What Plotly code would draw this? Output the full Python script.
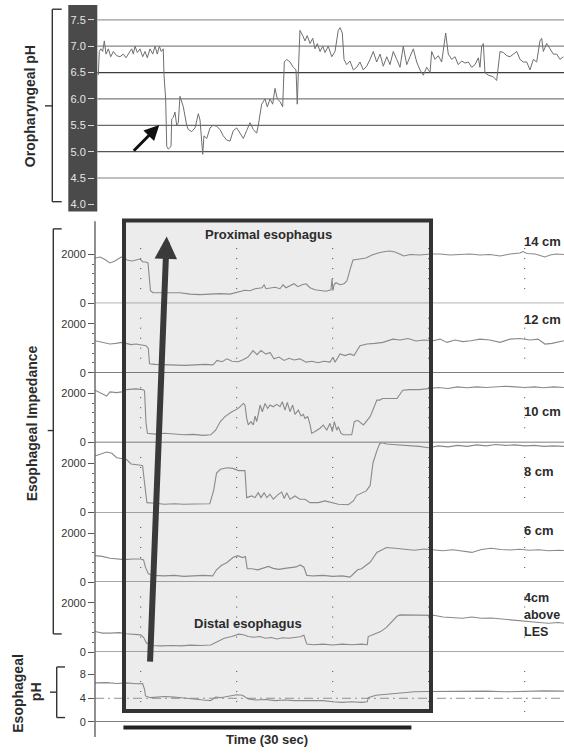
import plotly.graph_objects as go

W, H = 564, 755

# ---------------- data (time in seconds) ----------------
oro_ph = [(5.58,6.45),(5.69,6.9),(5.86,6.95),(6.04,6.9),(6.21,7.1),(6.39,6.85),(6.63,6.95),(6.88,6.8),(7.15,6.9),(7.50,6.82),
          (7.84,6.8),(8.19,6.85),(8.47,6.78),(8.71,6.85),(9.06,6.95),(9.23,6.85),(9.41,7.0),(9.65,6.88),(9.93,6.95),(10.21,6.8),
          (10.45,6.9),(10.69,6.78),(10.97,6.95),(11.25,6.85),(11.49,7.0),(11.73,6.85),(11.94,7.0),(12.15,6.9),(12.35,6.95),(12.43,6.45),
          (12.60,6.0),(12.71,5.1),(12.88,5.05),(13.16,5.1),(13.23,5.62),(13.40,5.65),(13.57,5.75),(13.75,5.5),(13.92,5.55),(14.09,6.05),
          (14.27,5.95),(14.44,5.85),(14.79,5.5),(14.96,5.42),(15.31,5.38),(15.66,5.45),(16.00,5.72),(16.18,5.6),(16.35,5.2),(16.46,4.95),
          (16.59,5.3),(16.88,5.25),(17.22,5.45),(17.56,5.5),(17.92,5.48),(18.26,5.42),(18.60,5.3),(18.96,5.22),(19.30,5.2),(19.65,5.4),
          (20.00,5.45),(20.34,5.35),(20.69,5.25),(21.04,5.4),(21.39,5.55),(21.73,5.42),(22.08,5.35),(22.25,5.5),(22.60,5.9),(22.95,6.0),
          (23.19,5.85),(23.47,6.0),(23.75,5.9),(23.99,6.2),(24.23,6.0),(24.51,5.95),(24.79,5.85),(24.96,6.7),(25.21,6.75),(25.55,6.7),
          (25.90,6.6),(26.18,6.55),(26.31,5.9),(26.42,6.5),(26.59,7.3),(26.88,7.2),(27.11,7.1),(27.35,7.2),(27.64,7.05),(27.92,7.15),
          (28.16,6.95),(28.40,7.05),(28.68,6.9),(28.96,7.0),(29.20,6.88),(29.54,7.0),(29.90,6.8),(30.24,6.9),(30.58,7.3),(30.76,7.35),
          (31.00,7.25),(31.18,6.75),(31.46,6.65),(31.80,6.72),(32.15,6.55),(32.50,6.6),(32.84,6.7),(33.19,6.55),(33.54,6.62),(33.89,6.75),
          (34.23,6.9),(34.58,6.7),(34.93,6.85),(35.27,6.62),(35.63,6.8),(35.97,6.65),(36.31,6.9),(36.67,6.75),(37.01,6.6),(37.35,7.0),
          (37.71,6.65),(38.05,6.8),(38.40,6.95),(38.75,6.7),(39.09,6.55),(39.44,6.45),(39.79,6.6),(40.14,6.5),(40.31,6.9),(40.66,6.75),
          (41.00,6.82),(41.35,6.7),(41.77,7.25),(42.04,6.85),(42.40,6.75),(42.74,6.8),(43.08,6.65),(43.44,6.72),(43.78,6.68),(44.13,6.7),
          (44.48,6.6),(44.82,6.65),(45.17,6.78),(45.34,6.6),(45.52,7.0),(45.69,7.05),(45.86,6.5),(46.21,6.45),(46.73,6.42),(47.08,6.35),
          (47.43,6.9),(47.77,6.88),(48.13,6.82),(48.47,6.8),(48.81,6.85),(49.17,6.9),(49.51,6.75),(49.85,6.7),(50.21,6.7),(50.55,6.55),
          (50.90,6.75),(51.25,6.7),(51.59,7.1),(51.77,7.15),(51.94,6.9),(52.29,7.05),(52.64,6.95),(52.98,6.85),(53.33,6.85),(53.67,6.75),
          (54.02,6.8)]

imp_14cm = [(5.24,1846),(5.76,1887),(6.18,1806),(6.80,1644),(7.32,1725),(7.95,1887),(8.26,1866),(8.57,1765),(9.09,1725),(9.61,1765),
            (9.92,1806),(10.24,1685),(10.55,1685),(10.76,1644),(10.92,1038),(11.02,513),(11.28,432),(12.01,432),(13.05,412),(14.09,432),
            (15.14,372),(16.18,351),(17.22,372),(18.26,392),(19.30,372),(19.93,432),(20.34,473),(20.86,533),(21.39,513),(21.91,594),
            (22.64,634),(22.85,755),(23.05,594),(23.47,634),(23.99,654),(24.51,594),(24.82,755),(25.13,634),(25.55,715),(25.97,796),
            (26.38,675),(26.80,755),(27.22,796),(27.64,634),(28.16,553),(28.68,513),(29.30,493),(29.82,553),(29.93,998),(30.03,513),
            (30.14,755),(30.34,836),(30.76,755),(31.18,796),(31.49,917),(31.80,1361),(32.11,1765),(32.84,1806),(33.47,1846),(34.09,1967),
            (34.72,2048),(35.45,2109),(35.97,2129),(36.49,2089),(37.01,2008),(37.43,1927),(38.05,1988),(39.09,1967),(40.14,2008),(41.18,2008),
            (42.22,1967),(43.26,1988),(44.30,2008),(45.34,1967),(46.38,1988),(47.43,1927),(48.47,2008),(49.51,2048),(49.82,2109),(50.24,2028),
            (51.07,2008),(52.11,1887),(52.64,1967),(53.26,2008),(54.09,1988)]

imp_12cm = [(5.24,1309),(5.76,1270),(6.28,1240),(6.80,1172),(7.41,1200),(8.02,1240),(8.47,1200),(8.99,1150),(9.51,1172),(10.03,1130),
            (10.55,1107),(10.79,1000),(10.92,364),(11.49,339),(12.53,320),(13.57,299),(14.61,299),(15.65,320),(16.70,339),(17.53,320),
            (17.95,501),(18.47,450),(18.99,566),(19.51,470),(20.14,450),(20.66,530),(21.18,640),(21.70,905),(22.11,740),(22.53,905),
            (23.05,760),(23.47,830),(23.89,566),(24.41,640),(24.93,500),(25.45,590),(25.97,520),(26.59,566),(27.22,432),(27.84,470),
            (28.47,410),(29.09,470),(29.72,432),(30.03,634),(30.24,430),(30.76,768),(31.28,700),(31.80,768),(32.22,700),(32.84,1107),
            (33.57,1172),(34.41,1200),(35.24,1240),(36.26,1374),(37.01,1340),(37.84,1400),(38.68,1300),(39.51,1340),(40.45,1309),(41.18,1374),
            (41.91,1240),(42.74,1340),(43.57,1270),(44.40,1309),(45.34,1374),(46.38,1340),(47.43,1240),(48.47,1374),(49.51,1400),(50.55,1340),
            (51.38,1374),(52.11,1172),(52.84,1200),(54.09,1309)]

imp_10cm = [(5.24,2129),(6.0,1990),(6.45,1887),(6.8,2060),(7.5,2030),(8.02,2060),(8.5,2153),(9.5,2180),(10.2,2153),(10.4,2100),
            (10.55,800),(10.7,376),(11.5,340),(12.5,376),(13.5,340),(14.5,311),(15.5,330),(16.5,290),(17.3,311),(17.8,500),
            (18.3,850),(18.78,1050),(19.5,1250),(20.17,1386),(20.69,1588),(20.86,1520),(21.04,982),(21.21,715),(21.49,848),(21.73,715),
            (21.91,1078),(22.08,848),(22.25,1145),(22.43,1523),(22.67,1252),(22.95,1588),(23.23,1386),(23.47,1523),(23.81,1454),(24.17,1550),
            (24.51,1454),(24.75,1656),(25.03,1320),(25.27,1630),(25.55,1252),(25.83,1523),(26.07,1145),(26.42,1320),(26.70,1078),(26.94,1145),
            (27.11,982),(27.40,1050),(27.64,727),(27.81,376),(28.16,444),(28.68,578),(29.02,710),(29.38,500),(29.72,780),(29.96,444),
            (30.17,848),(30.42,500),(30.58,640),(30.86,376),(31.10,311),(31.98,311),(32.25,848),(32.6,900),(33.2,715),(33.9,1050),
            (34.6,1725),(34.9,1725),(35.2,1790),(36.0,1800),(36.7,1790),(37.3,2129),(38.0,2153),(39.0,2150),(40.0,2180),(41.0,2240),
            (42.0,2200),(43.0,2262),(44.0,2230),(45.0,2262),(46.0,2240),(47.0,2262),(48.0,2290),(49.0,2262),(50.0,2240),(51.0,2262),
            (52.0,2230),(53.0,2262),(54.09,2240)]

imp_8cm = [(5.24,2291),(6.45,2452),(7.0,2400),(7.5,2222),(8.5,2157),(9.0,1967),(10.0,1920),(10.2,1900),(10.4,1200),(10.65,404),
           (11.5,380),(12.5,339),(13.5,360),(14.5,339),(15.5,350),(16.5,339),(17.2,360),(17.6,900),(17.9,1600),(18.3,1753),
           (19.0,1818),(19.6,1790),(20.2,1700),(20.86,1700),(21.04,606),(21.56,675),(21.91,606),(22.25,808),(22.53,606),(22.87,808),
           (23.13,606),(23.47,740),(23.81,540),(24.33,740),(24.69,835),(24.96,570),(25.21,808),(25.55,540),(26.07,675),(26.59,540),
           (27.11,540),(27.64,404),(28.50,404),(29.20,473),(29.90,404),(30.58,339),(31.62,320),(32.15,473),(32.5,700),(32.9,760),
           (33.5,877),(33.9,1100),(34.2,2020),(34.6,2500),(34.9,2800),(35.2,2830),(35.6,2780),(36.2,2760),(37.0,2740),(38.0,2700),
           (39.0,2680),(40.0,2626),(41.0,2700),(42.0,2660),(43.0,2720),(44.0,2680),(45.0,2740),(46.0,2700),(47.0,2760),(48.0,2720),
           (49.0,2740),(50.0,2700),(51.0,2720),(52.0,2680),(53.0,2700),(54.09,2680)]

imp_6cm = [(5.24,1079),(6.0,1050),(6.8,970),(7.5,945),(8.3,917),(9.2,945),(10.0,945),(10.3,900),(10.5,600),(10.8,339),
           (11.3,271),(12.5,250),(13.5,271),(14.5,230),(15.5,250),(16.5,271),(17.5,250),(17.9,500),(18.4,675),(19.0,800),
           (19.6,1000),(20.1,1079),(20.6,1000),(20.9,1040),(21.1,541),(21.6,541),(22.2,500),(22.8,560),(23.3,640),(23.8,560),
           (24.4,520),(25.0,560),(25.6,600),(26.2,620),(26.6,700),(27.0,606),(27.3,271),(28.0,250),(29.0,271),(30.0,230),
           (31.0,250),(31.8,202),(32.2,350),(32.6,500),(33.0,541),(33.4,650),(33.9,808),(34.6,1212),(35.6,1414),(36.5,1380),
           (37.5,1349),(38.5,1300),(39.5,1349),(40.5,1300),(41.5,1281),(42.5,1320),(43.5,1260),(44.5,1212),(45.5,1330),(46.5,1380),
           (47.5,1330),(48.5,1310),(49.5,1340),(50.5,1300),(51.5,1320),(52.5,1281),(53.5,1300),(54.09,1290)]

imp_4cm = [(5.24,832),(6.0,768),(6.8,768),(7.8,790),(8.5,740),(9.3,727),(10.0,699),(10.3,600),(10.6,364),(11.2,267),
           (12.2,250),(13.2,267),(14.2,250),(15.2,280),(16.2,267),(17.3,290),(17.9,400),(18.7,560),(19.5,630),(20.2,727),
           (20.7,700),(21.2,630),(21.8,600),(22.4,630),(23.0,560),(23.6,590),(24.2,530),(24.8,580),(25.4,560),(26.0,600),
           (26.6,620),(27.0,680),(27.3,323),(28.0,300),(29.0,323),(30.0,290),(31.0,323),(32.0,300),(33.0,323),(33.6,300),
           (33.7,630),(34.3,720),(35.0,830),(35.6,1000),(36.3,1300),(36.7,1450),(37.0,1507),(37.5,1507),(38.5,1500),(39.5,1507),
           (40.5,1490),(41.5,1420),(42.5,1400),(43.5,1374),(44.5,1420),(45.5,1374),(46.5,1380),(47.5,1340),(48.5,1300),(49.5,1260),
           (50.5,1236),(51.5,1200),(52.5,1172),(53.5,1200),(54.09,1172)]

eso_ph = [(5.24,6.6),(6.5,6.65),(7.5,6.5),(8.5,6.6),(9.5,6.45),(10.2,6.5),(10.4,5.5),(10.5,4.4),(11.0,4.1),(11.5,4.2),
          (12.5,4.3),(13.5,4.2),(14.5,4.0),(15.5,3.8),(16.5,3.7),(17.3,3.6),(17.8,4.2),(18.3,4.1),(19.2,4.4),(20.0,4.6),
          (20.6,4.5),(21.2,3.9),(22.0,3.7),(23.0,3.8),(24.0,3.6),(25.0,3.7),(26.0,3.6),(27.0,3.6),(28.0,3.5),(29.0,3.6),
          (30.0,3.4),(31.0,3.3),(32.0,3.4),(33.0,3.3),(33.6,3.4),(33.7,4.1),(34.5,4.5),(35.5,4.65),(36.5,4.9),(37.5,5.0),
          (38.5,5.1),(40.0,5.15),(42.0,5.2),(44.0,5.15),(46.0,5.2),(48.0,5.1),(50.0,5.2),(52.0,5.25),(54.09,5.2)]

channels = [("14 cm", imp_14cm), ("12 cm", imp_12cm), ("10 cm", imp_10cm),
            ("8 cm", imp_8cm), ("6 cm", imp_6cm), ("4cm<br>above<br>LES", imp_4cm)]

oro_ticks = [4.0, 4.5, 5.0, 5.5, 6.0, 6.5, 7.0, 7.5]
imp_ticks = [0, 2000]
eso_ticks = [0, 4, 8]
grid_seconds = [10, 20, 30, 40, 50]
scale_bar = (8.2, 38.2)   # 30 s
box_seconds = (8.26, 40.24)

# ---------------- layout helpers ----------------
def X(px): return px / W
def Y(px): return 1 - px / H

FONT = "Liberation Sans"
DARK = "#2b2b2b"

fig = go.Figure()

def unz(p):
    a, b = zip(*p)
    return list(a), list(b)

t, v = unz(oro_ph)
fig.add_trace(go.Scatter(x=t, y=v, xaxis="x", yaxis="y", mode="lines",
                         line=dict(color="#6e6e6e", width=1), hoverinfo="skip"))
for i, (name, data) in enumerate(channels):
    t, v = unz(data)
    fig.add_trace(go.Scatter(x=t, y=v, xaxis="x", yaxis=f"y{i+2}", mode="lines",
                             line=dict(color="#8a8a8a", width=1.1), hoverinfo="skip"))
t, v = unz(eso_ph)
fig.add_trace(go.Scatter(x=t, y=v, xaxis="x", yaxis="y8", mode="lines",
                         line=dict(color="#8a8a8a", width=1.1), hoverinfo="skip"))

# axes
x0px = 95
t_per_px = 1 / 9.6
t0 = 10 - (140.7 - x0px) * t_per_px
t1 = 10 + (W - 140.7) * t_per_px
layout = dict(
    width=W, height=H, margin=dict(l=0, r=0, t=0, b=0), autosize=False,
    paper_bgcolor="white", plot_bgcolor="rgba(0,0,0,0)", showlegend=False,
    xaxis=dict(domain=[X(x0px), 1], range=[t0, t1], visible=False),
)
layout["yaxis"] = dict(domain=[Y(213.3), Y(5)], range=[3.863, 7.782], anchor="x",
                       tickmode="array", tickvals=oro_ticks, ticktext=[f"{v:.1f}" for v in oro_ticks],
                       ticks="outside", ticklen=6, tickcolor="#d8d8d8", tickwidth=1,
                       tickfont=dict(family=FONT, size=11, color="#e6e6e6"),
                       showgrid=False, zeroline=False, showline=False)
zeros = [305.7, 375.7, 446.0, 516.7, 586.7, 657.3]
tops = [235.5] + zeros[:-1]
for i in range(6):
    layout[f"yaxis{i+2}"] = dict(domain=[Y(zeros[i]), Y(tops[i])], range=[0, 2840], anchor="x",
                                 tickmode="array", tickvals=imp_ticks, ticktext=[str(v) for v in imp_ticks],
                                 ticks="outside", ticklen=6, tickcolor="#555", tickwidth=1,
                                 tickfont=dict(family=FONT, size=11, color="#333"),
                                 minor=dict(tickmode="array", tickvals=[400, 800, 1200, 1600],
                                            ticks="outside", ticklen=2, tickcolor="#666"),
                                 showgrid=False, zeroline=False, showline=False)
layout["yaxis8"] = dict(domain=[Y(727.7), Y(657.3)], range=[0, 11.81], anchor="x",
                        tickmode="array", tickvals=eso_ticks, ticktext=[str(v) for v in eso_ticks],
                        ticks="outside", ticklen=6, tickcolor="#555", tickwidth=1,
                        tickfont=dict(family=FONT, size=11, color="#333"),
                        showgrid=False, zeroline=False, showline=False)

shapes = []
# dark tick strip
shapes.append(dict(type="rect", xref="paper", yref="paper", x0=X(68.3), x1=X(97.3), y0=Y(213.3), y1=Y(5),
                   fillcolor="#4a4a4a", line=dict(width=0), layer="below"))
# highlight box fill
shapes.append(dict(type="rect", xref="x", yref="paper", x0=box_seconds[0], x1=box_seconds[1],
                   y0=Y(716.7), y1=Y(222.3), fillcolor="#ececec", line=dict(width=0), layer="below"))
# top grid
grid_cols = {7.5: "#9a9a9a", 7.0: "#858585", 6.5: "#3c3c3c", 6.0: "#7a7a7a", 5.5: "#6a6a6a", 5.0: "#555555", 4.5: "#a8a8a8"}
for val, col in grid_cols.items():
    shapes.append(dict(type="line", xref="paper", yref="y", x0=X(97.3), x1=1, y0=val, y1=val,
                       line=dict(color=col, width=1.3), layer="below"))
# channel baselines
for i in range(6):
    shapes.append(dict(type="line", xref="paper", yref=f"y{i+2}", x0=X(x0px), x1=1, y0=0, y1=0,
                       line=dict(color="#555", width=1.2), layer="below"))
shapes.append(dict(type="line", xref="paper", yref="y8", x0=X(x0px), x1=1, y0=0, y1=0,
                   line=dict(color="#555", width=1.2), layer="below"))
# pH 4 reference
shapes.append(dict(type="line", xref="paper", yref="y8", x0=X(x0px), x1=1, y0=4, y1=4,
                   line=dict(color="#8f8f8f", width=1, dash="9px,4px,2px,4px"), layer="below"))
# dotted time grid
for s in grid_seconds:
    for i in range(6):
        shapes.append(dict(type="line", xref="x", yref=f"y{i+2}", x0=s, x1=s, y0=2250, y1=420,
                           line=dict(color="#444", width=1, dash="1px,9px"), layer="below"))
    shapes.append(dict(type="line", xref="x", yref="y8", x0=s, x1=s, y0=8.6, y1=1.2,
                       line=dict(color="#444", width=1, dash="1px,9px"), layer="below"))
# left axis line of the lower block
shapes.append(dict(type="line", xref="paper", yref="paper", x0=X(x0px), x1=X(x0px), y0=Y(743), y1=Y(223),
                   line=dict(color="#555", width=1.3)))
# box border
shapes.append(dict(type="rect", xref="x", yref="paper", x0=box_seconds[0], x1=box_seconds[1],
                   y0=Y(716.7), y1=Y(222.3), line=dict(color="#333", width=4), fillcolor="rgba(0,0,0,0)"))
# scale bar
shapes.append(dict(type="line", xref="x", yref="paper", x0=scale_bar[0], x1=scale_bar[1], y0=Y(733.3), y1=Y(733.3),
                   line=dict(color="#222", width=4)))
# brackets
def bracket(xv, ytop, ybot, xend, ymid, xtick):
    c = dict(color="#333", width=1.4)
    return [dict(type="line", xref="paper", yref="paper", x0=X(xv), x1=X(xv), y0=Y(ybot), y1=Y(ytop), line=c),
            dict(type="line", xref="paper", yref="paper", x0=X(xv), x1=X(xend), y0=Y(ytop), y1=Y(ytop), line=c),
            dict(type="line", xref="paper", yref="paper", x0=X(xv), x1=X(xend), y0=Y(ybot), y1=Y(ybot), line=c),
            dict(type="line", xref="paper", yref="paper", x0=X(xtick), x1=X(xv), y0=Y(ymid), y1=Y(ymid), line=c)]
shapes += bracket(52.3, 9.3, 203.3, 61.7, 106.7, 45)
shapes += bracket(53.3, 230.7, 639, 61.7, 434, 47.7)
shapes += bracket(56.7, 672.3, 723.3, 65, 697.7, 50)
layout["shapes"] = shapes

ann = []
def txt(s, xp, yp, size=13, angle=0, xanchor="center"):
    ann.append(dict(text=f"<b>{s}</b>", xref="paper", yref="paper", x=X(xp), y=Y(yp), showarrow=False,
                    textangle=angle, xanchor=xanchor, yanchor="middle",
                    font=dict(family=FONT, size=size, color=DARK)))
txt("Oropharyngeal pH", 30, 107, 14, -90)
txt("Esophageal Impedance", 31.7, 427, 14, -90)
txt("Esophageal", 18.3, 699, 14, -90)
txt("pH", 36.7, 697, 14, -90)
txt("Proximal esophagus", 268, 236, 13)
txt("Distal esophagus", 247.5, 628.3, 13)
txt("Time (30 sec)", 266.7, 745, 13)
label_y = [243, 321.7, 415, 475, 535]
for (name, _), yy in zip(channels[:5], label_y):
    txt(name, 522, yy, 13, 0, "left")
for s, yy in zip(["4cm", "above", "LES"], [603, 620, 637]):
    txt(s, 522, yy, 12.5, 0, "left")
# arrows
ann.append(dict(text="", xref="paper", yref="paper", x=X(166.7), y=Y(238.3), ax=-16.7, ay=426.7,
                showarrow=True, arrowhead=2, arrowsize=0.75, arrowwidth=6, arrowcolor="#3a3a3a"))
ann.append(dict(text="", xref="paper", yref="paper", x=X(159.3), y=Y(126), ax=-27, ay=27.3,
                showarrow=True, arrowhead=2, arrowsize=1, arrowwidth=3, arrowcolor="#111"))
layout["annotations"] = ann

fig.update_layout(**layout)
fig.write_html("out.html", config={"displayModeBar": False},
               post_script="document.body.style.margin='0px';document.body.style.overflow='hidden';")
